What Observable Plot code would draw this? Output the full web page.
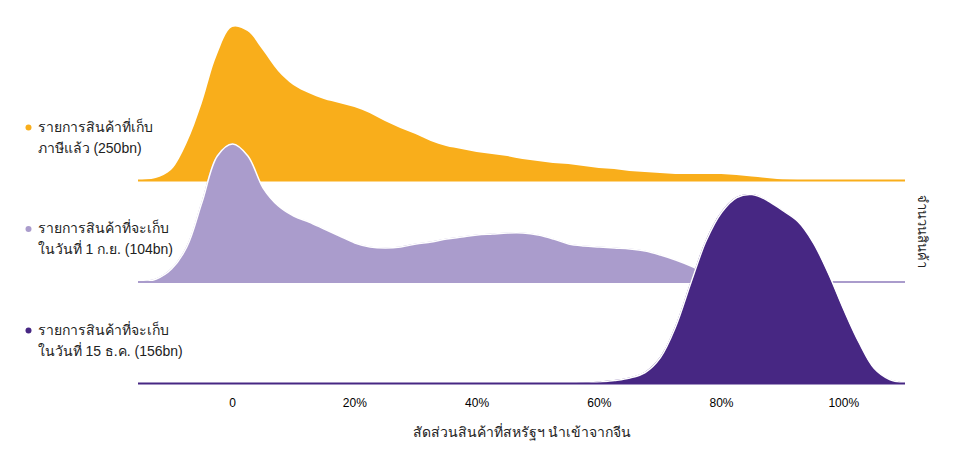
<!DOCTYPE html>
<html><head><meta charset="utf-8">
<script src="https://cdn.jsdelivr.net/npm/d3@7"></script>
<script src="https://cdn.jsdelivr.net/npm/@observablehq/plot@0.6"></script>
<style>body{margin:0;background:#fff}</style>
</head><body><div id="chart"></div>
<script>
// shares of goods imported from China (%) at which density is read
const xGrid = [-15,-12.5,-10,-7.5,-5,-2.5,0,2.5,5,7.5,10,12.5,15,17.5,20,22.5,25,27.5,30,32.5,35,37.5,40,42.5,45,47.5,50,52.5,55,57.5,60,62.5,65,67.5,70,72.5,75,77.5,80,82.5,85,87.5,90,92.5,95,97.5,100,102.5,105,107.5,110];
// estimated density (number of products), one list per group
const tariffedValues = [0,2,10,36,76,125,153,149,130,109,95,87,81,77,73,67,59,52,46,39,34,31,28,26,24,21,19,17,16,14,12,11,9,8,7,6,6,6,6,5,3.5,2,0.5,0,0,0,0,0,0,0,0];
const sep1Values = [0,3,13,35,80,126,138,126,94,76,66,60,53,46,39,35,34,35,38,40,43,45,47,48,49,49,47,43,38,36,35,34,33,31,27,22,16,9,4,1.5,0.5,0,0,0,0,0,0,0,0,0,0];
const dec15Values = [0,0,0,0,0,0,0,0,0,0,0,0,0,0,0,0,0,0,0,0,0,0,0,0,0,0,0,0,0,0.3,1.5,3,5.5,11,26,57,101,143,171,186,189,183,173,162,141,110,74,41,15,4,0.5];

const labelLine1 = ["รายการสินค้าที่เก็บ","รายการสินค้าที่จะเก็บ","รายการสินค้าที่จะเก็บ"];
const labelLine2 = ["ภาษีแล้ว (250bn)","ในวันที่ 1 ก.ย. (104bn)","ในวันที่ 15 ธ.ค. (156bn)"];
const seriesColors = ["#F9AE1B","#AA9CCC","#472783"];
const xTicks = [0,20,40,60,80,100];
const xTitle = "สัดส่วนสินค้าที่สหรัฐฯ นำเข้าจากจีน";
const yTitle = "จำนวนสินค้า";

const seriesValues = [tariffedValues, sep1Values, dec15Values];
const rowStep = 101.5;
const n = seriesValues.length;
const curve = "catmull-rom";

const marks = [];
seriesValues.forEach((vals, i) => {
  const off = (n - 1 - i) * rowStep;
  const rows = xGrid.map((x, k) => ({x, y1: off, y2: off + vals[k]}));
  const color = seriesColors[i];
  marks.push(Plot.areaY(rows, {x: "x", y1: "y1", y2: "y2", fill: color, curve}));
  if (i > 0) marks.push(Plot.lineY(rows, {x: "x", y: "y2", stroke: "white", strokeWidth: 1.5, curve}));
  marks.push(Plot.ruleY([off], {stroke: color, strokeWidth: 2}));
  marks.push(Plot.dot([off + 53], {y: d => d, frameAnchor: "left", dx: -110, r: 3, fill: color, stroke: null}));
  marks.push(Plot.text([off + 53], {y: d => d, text: () => labelLine1[i], frameAnchor: "left", dx: -101, textAnchor: "start", fontSize: 14, fill: "#222"}));
  marks.push(Plot.text([off + 32], {y: d => d, text: () => labelLine2[i], frameAnchor: "left", dx: -101, textAnchor: "start", fontSize: 14, fill: "#222"}));
});

marks.push(Plot.axisX({ticks: xTicks, tickSize: 0, tickPadding: 15, fontSize: 12, label: null,
  tickFormat: d => d === 0 ? "0" : d + "%"}));
marks.push(Plot.text([xTitle], {text: d => d, frameAnchor: "bottom", dy: 53, fontSize: 14, fill: "#222"}));
marks.push(Plot.text([yTitle], {text: d => d, y: () => 152, frameAnchor: "right", dx: 17, textAnchor: "middle", rotate: 90, fontSize: 13, fill: "#222"}));

const chart = Plot.plot({
  width: 960, height: 469,
  marginLeft: 138, marginRight: 55, marginTop: 0, marginBottom: 86,
  x: {domain: [-15.4, 110.1]},
  y: {domain: [0, 383], axis: null},
  style: {fontFamily: "'Liberation Sans', Arial, sans-serif", background: "#fff", overflow: "visible"},
  marks
});
document.getElementById("chart").appendChild(chart);
</script>
</body></html>
